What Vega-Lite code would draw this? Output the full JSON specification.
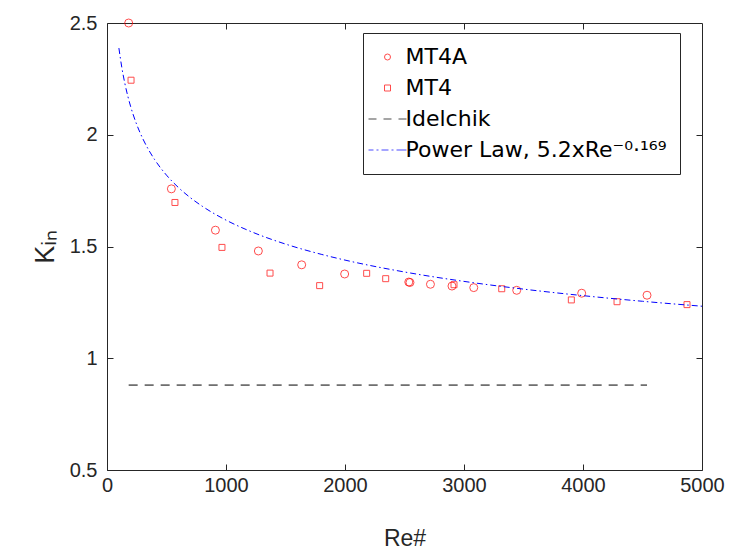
{
  "$schema": "https://vega.github.io/schema/vega-lite/v6.json",
  "autosize": "none",
  "width": 595,
  "height": 447,
  "padding": {"left": 107, "top": 23, "right": 30, "bottom": 83},
  "background": "white",
  "config": {
    "font": "Liberation Sans",
    "view": {"stroke": "#262626", "strokeWidth": 1},
    "axis": {
      "grid": false,
      "labelFont": "Liberation Sans",
      "labelFontSize": 20,
      "labelColor": "#262626",
      "titleFont": "Liberation Sans",
      "titleFontSize": 23,
      "titleFontWeight": "normal",
      "titleColor": "#262626",
      "tickColor": "#262626",
      "tickWidth": 1,
      "domain": false,
      "tickSize": -6,
      "labelFlush": false,
      "labelOverlap": false
    }
  },
  "data": {
    "values": [
      {"series": "MT4A", "Re": 182, "K": 2.5},
      {"series": "MT4A", "Re": 541, "K": 1.758},
      {"series": "MT4A", "Re": 911, "K": 1.573},
      {"series": "MT4A", "Re": 1272, "K": 1.48},
      {"series": "MT4A", "Re": 1636, "K": 1.418},
      {"series": "MT4A", "Re": 1997, "K": 1.377},
      {"series": "MT4A", "Re": 2536, "K": 1.341},
      {"series": "MT4A", "Re": 2546, "K": 1.339},
      {"series": "MT4A", "Re": 2718, "K": 1.331},
      {"series": "MT4A", "Re": 2899, "K": 1.323},
      {"series": "MT4A", "Re": 3082, "K": 1.316},
      {"series": "MT4A", "Re": 3443, "K": 1.304},
      {"series": "MT4A", "Re": 3989, "K": 1.291},
      {"series": "MT4A", "Re": 4538, "K": 1.282},
      {"series": "MT4", "Re": 202, "K": 2.244},
      {"series": "MT4", "Re": 571, "K": 1.697},
      {"series": "MT4", "Re": 966, "K": 1.496},
      {"series": "MT4", "Re": 1370, "K": 1.381},
      {"series": "MT4", "Re": 1787, "K": 1.325},
      {"series": "MT4", "Re": 2182, "K": 1.38},
      {"series": "MT4", "Re": 2342, "K": 1.356},
      {"series": "MT4", "Re": 2916, "K": 1.329},
      {"series": "MT4", "Re": 3317, "K": 1.311},
      {"series": "MT4", "Re": 3902, "K": 1.261},
      {"series": "MT4", "Re": 4286, "K": 1.253},
      {"series": "MT4", "Re": 4874, "K": 1.24},
      {"series": "Idelchik", "Re": 182, "K": 0.88},
      {"series": "Idelchik", "Re": 4538, "K": 0.88},
      {"series": "Power", "Re": 100, "K": 2.3879},
      {"series": "Power", "Re": 125, "K": 2.2995},
      {"series": "Power", "Re": 150, "K": 2.2297},
      {"series": "Power", "Re": 175, "K": 2.1724},
      {"series": "Power", "Re": 200, "K": 2.1239},
      {"series": "Power", "Re": 250, "K": 2.0453},
      {"series": "Power", "Re": 300, "K": 1.9832},
      {"series": "Power", "Re": 350, "K": 1.9322},
      {"series": "Power", "Re": 400, "K": 1.8891},
      {"series": "Power", "Re": 500, "K": 1.8192},
      {"series": "Power", "Re": 600, "K": 1.764},
      {"series": "Power", "Re": 700, "K": 1.7186},
      {"series": "Power", "Re": 800, "K": 1.6803},
      {"series": "Power", "Re": 1000, "K": 1.6181},
      {"series": "Power", "Re": 1200, "K": 1.569},
      {"series": "Power", "Re": 1500, "K": 1.5109},
      {"series": "Power", "Re": 1800, "K": 1.4651},
      {"series": "Power", "Re": 2000, "K": 1.4392},
      {"series": "Power", "Re": 2500, "K": 1.386},
      {"series": "Power", "Re": 3000, "K": 1.3439},
      {"series": "Power", "Re": 3500, "K": 1.3093},
      {"series": "Power", "Re": 4000, "K": 1.2801},
      {"series": "Power", "Re": 4500, "K": 1.2549},
      {"series": "Power", "Re": 5000, "K": 1.2328}
    ]
  },
  "layer": [
    {
      "transform": [{"filter": "datum.series === 'MT4A'"}],
      "mark": {"type": "point", "shape": "circle", "filled": false, "size": 64, "strokeWidth": 1, "clip": false},
      "encoding": {
        "x": {"field": "Re", "type": "quantitative",
          "scale": {"domain": [0, 5000], "nice": false, "zero": false},
          "axis": {"title": "Re#", "values": [0, 1000, 2000, 3000, 4000, 5000], "format": "d", "labelPadding": 11, "titlePadding": 32}},
        "y": {"field": "K", "type": "quantitative",
          "scale": {"domain": [0.5, 2.5], "nice": false, "zero": false},
          "axis": {"title": "Kᵢₙ", "titleFontSize": 27, "values": [0.5, 1, 1.5, 2, 2.5], "format": ".2~f", "labelPadding": 16, "titlePadding": 10}},
        "color": {"field": "series", "type": "nominal",
          "scale": {"domain": ["MT4A", "MT4", "Idelchik", "Power"], "range": ["#ff0000", "#ff0000", "#000000", "#0000ff"]},
          "legend": {
            "title": null,
            "orient": "none",
            "legendX": 256,
            "legendY": 10,
            "direction": "vertical",
            "strokeColor": "#262626",
            "fillColor": "white",
            "padding": 13,
            "labelFont": "DejaVu Sans",
            "labelFontSize": 22,
            "labelColor": "black",
            "labelLimit": 400,
            "symbolSize": 36,
            "symbolStrokeWidth": 1,
            "symbolOffset": 0.5,
            "labelOffset": 7,
            "rowPadding": 9,
            "labelExpr": "datum.label === 'Power' ? 'Power Law, 5.2xRe⁻⁰·¹⁶⁹' : datum.label"
          }},
        "shape": {"field": "series", "type": "nominal",
          "scale": {"domain": ["MT4A", "MT4", "Idelchik", "Power"],
            "range": ["circle", "square", "M-6.33,0H-3.67M-1.33,0H1.33M3.67,0H6.33", "M-6.33,0H-4.67M-3.67,0H-3M-2,0H0.33M1.33,0H2M3,0H6.33"]}}
      }
    },
    {
      "transform": [{"filter": "datum.series === 'MT4'"}],
      "mark": {"type": "point", "shape": "square", "filled": false, "size": 36, "strokeWidth": 1},
      "encoding": {
        "x": {"field": "Re", "type": "quantitative", "axis": null},
        "y": {"field": "K", "type": "quantitative", "axis": null},
        "color": {"field": "series", "type": "nominal"},
        "shape": {"field": "series", "type": "nominal"}
      }
    },
    {
      "transform": [{"filter": "datum.series === 'Idelchik'"}],
      "mark": {"type": "line", "stroke": "#000000", "strokeWidth": 1, "strokeDash": [9, 7]},
      "encoding": {
        "x": {"field": "Re", "type": "quantitative", "axis": null},
        "y": {"field": "K", "type": "quantitative", "axis": null}
      }
    },
    {
      "transform": [{"filter": "datum.series === 'Power'"}],
      "mark": {"type": "line", "stroke": "#0000ff", "strokeWidth": 1, "strokeDash": [6, 3, 1.5, 3], "interpolate": "monotone"},
      "encoding": {
        "x": {"field": "Re", "type": "quantitative", "axis": null},
        "y": {"field": "K", "type": "quantitative", "axis": null}
      }
    },
    {
      "transform": [{"filter": "datum.series === 'Idelchik'"}],
      "mark": {"type": "point", "opacity": 0},
      "encoding": {
        "x": {"field": "Re", "type": "quantitative",
          "axis": {"orient": "top", "title": null, "labels": false, "values": [1000, 2000, 3000, 4000]}},
        "y": {"field": "K", "type": "quantitative",
          "axis": {"orient": "right", "title": null, "labels": false, "values": [1, 1.5, 2]}}
      }
    }
  ],
  "resolve": {"axis": {"x": "independent", "y": "independent"}}
}
